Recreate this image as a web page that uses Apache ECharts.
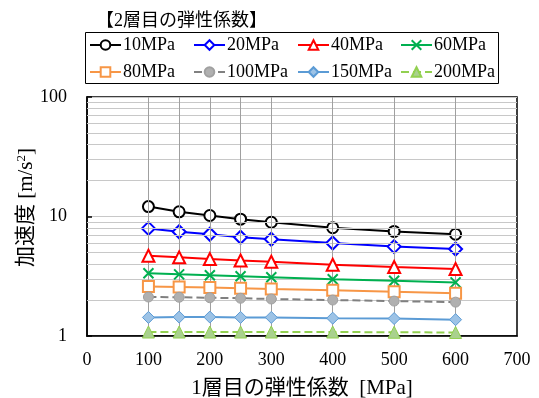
<!DOCTYPE html>
<html>
<head>
<meta charset="utf-8">
<script src="https://cdn.jsdelivr.net/npm/echarts@6/dist/echarts.min.js"></script>
<style>
  html, body { margin: 0; padding: 0; background: #fff; }
  #chart { width: 539px; height: 398px; }
</style>
</head>
<body>
<div id="chart"></div>
<script>
// 1st-layer elastic modulus [MPa]
const layer1Modulus = [100, 150, 200, 250, 300, 400, 500, 600];

// acceleration [m/s2] for each 2nd-layer elastic modulus
const acc10 = [12.1, 10.95, 10.2, 9.5, 8.95, 8.05, 7.5, 7.1];
const acc20 = [7.95, 7.45, 7.1, 6.7, 6.45, 6.0, 5.6, 5.35];
const acc40 = [4.7, 4.55, 4.4, 4.28, 4.18, 3.95, 3.78, 3.64];
const acc60 = [3.35, 3.28, 3.22, 3.16, 3.1, 2.98, 2.9, 2.81];
const acc80 = [2.59, 2.57, 2.54, 2.51, 2.47, 2.41, 2.35, 2.28];
const acc100 = [2.12, 2.11, 2.09, 2.07, 2.04, 2.0, 1.96, 1.92];
const acc150 = [1.43, 1.44, 1.44, 1.43, 1.43, 1.41, 1.4, 1.37];
const acc200 = [1.08, 1.08, 1.08, 1.08, 1.08, 1.08, 1.075, 1.07];

const seriesNames = ['10MPa', '20MPa', '40MPa', '60MPa', '80MPa', '100MPa', '150MPa', '200MPa'];
const xTicks = [0, 100, 200, 300, 400, 500, 600, 700];
const yTicks = [1, 10, 100];
const yMinorLines = [2, 3, 4, 5, 6, 7, 8, 9, 20, 30, 40, 50, 60, 70, 80, 90];

const SERIF = 'Liberation Serif';
const MIXED = "'Liberation Serif', 'Noto Sans CJK JP'";

const crossPath = 'path://M0,0L10,10M10,0L0,10';

const styles = [
  { color: '#000000', symbol: 'circle', size: 11, fill: '#ffffff', border: '#000000', dash: 'solid', bw: 2 },
  { color: '#0000ff', symbol: 'diamond', size: 13, fill: '#ffffff', border: '#0000ff', dash: 'solid', bw: 2 },
  { color: '#ff0000', symbol: 'triangle', size: 12, fill: '#ffffff', border: '#ff0000', dash: 'solid', bw: 2 },
  { color: '#00b050', symbol: crossPath, size: 10, fill: 'none', border: '#00b050', dash: 'solid', bw: 2 },
  { color: '#f79646', symbol: 'rect', size: 11, fill: '#ffffff', border: '#f79646', dash: 'solid', bw: 2 },
  { color: '#808080', symbol: 'circle', size: 10, fill: '#b0b0b0', border: '#a0a0a0', dash: 'dashed', bw: 1 },
  { color: '#5b9bd5', symbol: 'diamond', size: 12, fill: '#9dc3e6', border: '#5b9bd5', dash: 'solid', bw: 1 },
  { color: '#92d050', symbol: 'triangle', size: 12, fill: '#a9d18e', border: '#92d050', dash: 'dashed', bw: 1 }
];
const values = [acc10, acc20, acc40, acc60, acc80, acc100, acc150, acc200];

const series = [];
// helper series carrying the grid lines (drawn beneath the data)
series.push({
  name: '_grid',
  type: 'line',
  data: [],
  silent: true,
  z: 1,
  markLine: {
    silent: true,
    symbol: ['none', 'none'],
    label: { show: false },
    animation: false,
    data: yMinorLines.map(v => ({ yAxis: v, lineStyle: { color: '#c8c8c8', width: 1, type: 'solid' } }))
      .concat(layer1Modulus.map(v => ({ xAxis: v, lineStyle: { color: '#a0a0a0', width: 1, type: 'solid' } })))
  }
});

seriesNames.forEach((name, i) => {
  const s = styles[i];
  series.push({
    name: name,
    type: 'line',
    z: 3 + i,
    data: layer1Modulus.map((x, j) => [x, values[i][j]]),
    symbol: s.symbol,
    symbolSize: s.size,
    showAllSymbol: true,
    lineStyle: { color: s.color, width: 2, type: s.dash },
    itemStyle: { color: s.fill, borderColor: s.border, borderWidth: s.bw },
    emphasis: { disabled: true },
    animation: false
  });
});

function legendCol(left, names) {
  return {
    data: names,
    orient: 'vertical',
    left: left,
    top: 36,
    itemWidth: 31,
    itemHeight: 12,
    itemGap: 9,
    padding: 0,
    selectedMode: false,
    textStyle: { fontFamily: SERIF, fontSize: 18, color: '#000', padding: [0, 0, 0, -3] }
  };
}

const tickRich = { t: { fontFamily: SERIF, fontSize: 18, color: '#000' } };

const chart = echarts.init(document.getElementById('chart'), null, { renderer: 'canvas' });
chart.setOption({
  backgroundColor: '#ffffff',
  animation: false,
  textStyle: { fontFamily: SERIF },
  grid: {
    left: 87, right: 22, top: 97, bottom: 62,
    outerBoundsMode: 'none',
    containLabel: false,
    show: true, borderColor: '#000', borderWidth: 1.5, backgroundColor: 'transparent'
  },
  legend: [
    legendCol(89, ['10MPa', '80MPa']),
    legendCol(193, ['20MPa', '100MPa']),
    legendCol(297, ['40MPa', '150MPa']),
    legendCol(400, ['60MPa', '200MPa'])
  ],
  graphic: [
    { type: 'rect', shape: { x: 85.5, y: 32.5, width: 413, height: 51 }, style: { fill: 'none', stroke: '#000', lineWidth: 1 }, z: 0 },
    { type: 'text', x: 94, y: 12, style: { text: '【2層目の弾性係数】', fontFamily: MIXED, fontSize: 18, fill: '#000', backgroundColor: '#fff', padding: [0, 4, 0, 2] }, z: 1 }
  ],
  xAxis: {
    type: 'value',
    min: 0, max: 700, interval: 100,
    name: '1層目の弾性係数  [MPa]',
    nameLocation: 'middle',
    nameGap: 42,
    nameMoveOverlap: false,
    nameTextStyle: { fontFamily: MIXED, fontSize: 21, color: '#000' },
    axisLine: { show: true, lineStyle: { color: '#000', width: 1.5 } },
    axisTick: { show: false },
    splitLine: { show: false },
    axisLabel: { fontFamily: SERIF, fontSize: 18, color: '#000', margin: 15, rich: tickRich,
      formatter: v => xTicks.includes(v) ? '{t|' + v + '}' : '' }
  },
  yAxis: {
    type: 'log',
    logBase: 10,
    min: 1, max: 100,
    name: '加速度 [m/s{sup|2}]',
    nameLocation: 'middle',
    nameRotate: 90,
    nameGap: 50,
    nameMoveOverlap: false,
    nameTextStyle: { fontFamily: MIXED, fontSize: 21, color: '#000', padding: [0, 0, 0, 18],
      rich: { sup: { fontFamily: SERIF, fontSize: 13, verticalAlign: 'top', padding: [0, 0, 9, 0] } } },
    axisLine: { show: true, lineStyle: { color: '#000', width: 1.5 } },
    axisTick: { show: true, inside: true, length: 5, lineStyle: { color: '#000', width: 1.5 } },
    splitLine: { show: true, lineStyle: { color: '#c8c8c8', width: 1 } },
    axisLabel: { fontFamily: SERIF, fontSize: 18, color: '#000', margin: 20, rich: tickRich,
      formatter: v => yTicks.includes(v) ? '{t|' + v + '}' : '' }
  },
  series: series
});
</script>
</body>
</html>
